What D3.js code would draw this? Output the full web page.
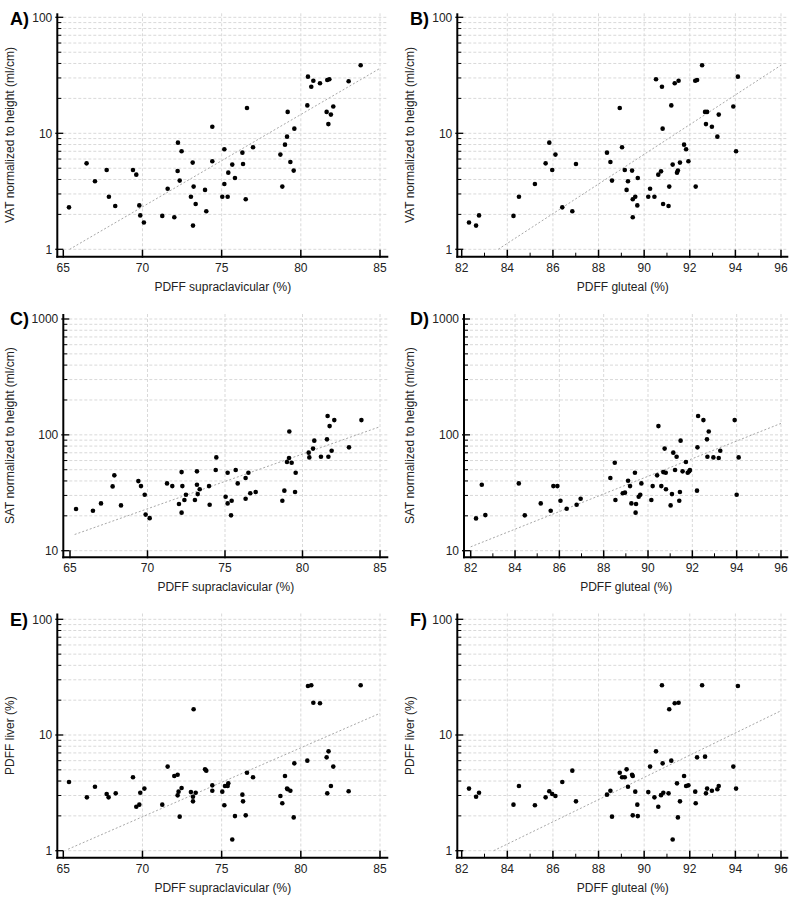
<!DOCTYPE html>
<html><head><meta charset="utf-8">
<script src="https://cdn.jsdelivr.net/npm/d3@7"></script>
<style>body{margin:0;background:#fff}svg{display:block}</style>
</head><body>
<svg id="chart" width="800" height="902"></svg>
<script>
// ---------------- DATA ----------------
const xSupra = [65.36,66.47,67.0,67.74,67.88,68.28,69.4,69.61,69.8,69.86,70.09,71.25,71.59,72.01,72.24,72.22,72.35,72.47,73.06,73.17,73.23,73.19,73.36,73.95,74.03,74.41,74.41,75.04,75.17,75.17,75.38,75.42,75.67,75.84,76.31,76.35,76.52,76.6,76.98,78.71,78.83,79.0,79.13,79.17,79.34,79.55,79.59,80.41,80.45,80.66,80.79,81.21,81.63,81.67,81.8,81.74,81.9,82.05,83.02,83.78];
const vatSupra = [2.30,5.51,3.86,4.83,2.84,2.36,4.83,4.40,2.39,1.96,1.70,1.94,3.33,1.89,8.31,4.73,3.91,7.0,2.84,5.59,3.47,1.60,2.46,3.25,2.13,5.74,11.4,2.84,7.28,3.66,2.84,4.58,5.37,4.12,6.81,5.44,2.70,16.5,7.57,6.55,3.47,7.98,9.36,15.3,5.66,4.77,10.97,17.4,30.8,25.2,28.4,27.0,15.3,28.8,29.2,12.0,14.5,17.0,28.1,38.6];

const xGlut = [82.32,82.63,82.76,84.27,84.51,85.21,85.68,85.84,85.97,86.11,86.41,86.85,87.01,88.37,88.52,88.59,88.93,89.03,89.15,89.23,89.29,89.47,89.5,89.5,89.61,89.7,89.72,90.18,90.26,90.45,90.52,90.62,90.74,90.78,90.81,90.83,91.07,91.1,91.19,91.25,91.34,91.44,91.48,91.51,91.57,91.75,91.84,91.94,92.24,92.26,92.32,92.54,92.67,92.76,92.71,92.97,93.21,93.27,93.91,94.03,94.11];
const vatGlut = [1.70,1.60,1.96,1.94,2.84,3.66,5.51,8.31,4.83,6.55,2.30,2.13,5.44,6.81,5.66,3.91,16.5,7.57,4.83,3.25,3.86,4.77,2.70,1.89,2.84,2.39,4.12,2.84,3.33,2.84,29.2,4.40,4.70,25.2,10.97,2.46,2.36,3.47,17.4,5.37,27.0,4.58,4.77,28.4,5.59,7.98,7.28,5.74,28.4,3.47,28.8,38.6,15.3,15.3,12.0,11.4,9.36,14.5,17.0,7.0,30.8];

const xSupraC = [65.39,66.48,67.0,67.75,67.86,68.29,69.41,69.58,69.82,69.88,70.14,71.26,71.6,72.03,72.2,72.2,72.25,72.38,72.48,73.06,73.19,73.19,73.24,73.37,73.97,74.01,74.4,74.44,75.04,75.17,75.17,75.39,75.43,75.69,75.82,76.33,76.33,76.51,76.63,76.98,78.7,78.83,79.0,79.15,79.13,79.3,79.52,79.56,80.4,80.44,80.68,80.76,81.19,81.58,81.62,81.67,81.75,81.88,82.05,83.0,83.8];
const satSupra = [22.9,22.1,25.6,35.9,44.7,24.6,39.9,36.1,30.4,20.5,19.1,38.1,36.1,25.3,47.7,21.3,36.1,27.4,30.4,27.4,48.4,37.1,30.8,33.9,36.1,24.9,49.7,63.9,29.2,47.1,25.6,20.2,27.0,49.7,38.1,28.1,42.4,47.1,31.3,32.1,27.0,33.0,58.3,107,63.1,57.5,32.1,47.1,70.2,63.9,76.1,89.1,64.8,91.4,145.5,64.8,119,73.0,134,78.0,134];

const xGlutD = [82.24,82.5,82.66,84.17,84.44,85.16,85.61,85.73,85.91,86.05,86.33,86.78,86.96,88.3,88.5,88.53,88.86,88.96,89.1,89.19,89.25,89.41,89.44,89.46,89.58,89.65,89.7,90.15,90.21,90.41,90.47,90.6,90.69,90.75,90.8,90.81,91.02,91.08,91.14,91.22,91.29,91.41,91.44,91.47,91.56,91.71,91.79,91.86,91.89,92.21,92.23,92.26,92.5,92.66,92.68,92.74,92.95,93.19,93.26,93.91,94.0,94.09];
const satGlut = [19.0,37.1,20.3,38.1,20.2,25.6,22.1,36.1,36.1,27.0,23.0,24.9,28.1,42.4,57.5,27.4,31.3,31.7,40.2,36.1,25.6,47.1,21.3,25.3,29.2,30.4,38.1,27.4,36.1,44.7,119,36.1,47.7,76.1,47.1,33.9,24.6,30.8,70.2,49.7,64.8,27.0,32.1,89.1,48.4,58.3,47.1,48.4,49.7,33.0,78.0,145.5,134,91.4,64.8,107,63.9,63.1,73.0,134,30.4,63.9];

const xSupraE = [65.36,66.49,67.0,67.74,67.86,68.31,69.4,69.61,69.8,69.86,70.12,71.25,71.59,72.01,72.22,72.22,72.28,72.35,72.47,73.06,73.19,73.19,73.23,73.36,73.95,74.03,74.41,74.41,75.04,75.17,75.21,75.38,75.42,75.67,75.84,76.31,76.35,76.52,76.6,76.98,78.71,78.83,79.0,79.13,79.17,79.34,79.55,79.59,80.41,80.45,80.66,80.79,81.21,81.63,81.67,81.75,81.9,82.05,83.02,83.78];
const liverSupra = [3.92,2.89,3.57,3.09,2.89,3.13,4.31,2.40,2.50,3.17,3.44,2.50,5.33,4.42,4.54,3.01,3.24,1.97,3.48,3.21,2.93,2.67,16.7,3.17,5.05,4.92,3.67,3.30,3.24,2.47,3.62,3.62,3.82,1.25,1.99,3.05,2.67,2.02,4.72,4.31,2.97,2.57,4.42,3.44,3.40,3.30,1.94,5.69,6.0,26.5,26.9,19.0,18.8,6.41,3.13,7.22,3.62,5.33,3.26,26.9];

const xGlutF = [82.32,82.63,82.76,84.27,84.51,85.21,85.68,85.84,85.97,86.11,86.41,86.85,87.01,88.37,88.52,88.59,88.93,89.03,89.15,89.23,89.29,89.47,89.5,89.5,89.61,89.7,89.72,90.18,90.26,90.45,90.52,90.62,90.74,90.78,90.81,90.84,91.07,91.1,91.19,91.25,91.34,91.44,91.48,91.51,91.57,91.75,91.84,91.94,92.24,92.26,92.32,92.54,92.67,92.71,92.76,92.97,93.21,93.27,93.91,94.03,94.11];
const liverGlut = [3.44,2.93,3.17,2.50,3.62,2.47,2.89,3.26,3.09,2.97,3.92,4.92,2.67,3.05,3.30,1.97,4.72,4.31,4.31,5.05,3.57,4.54,4.42,2.02,3.24,2.50,1.99,3.21,5.33,2.89,7.22,2.40,3.02,26.9,5.69,3.17,3.13,16.7,6.0,1.25,18.8,3.82,1.94,19.0,2.67,4.42,3.62,3.67,3.24,2.57,6.41,26.9,6.5,3.13,3.44,3.30,3.40,3.62,5.33,3.44,26.5];

// regression lines (data units: [x0, y0, x1, y1])
const fitA = [65.4, 1.0, 85, 36.3];
const fitB = [83.6, 1.0, 96, 38.6];
const fitC = [65.3, 13.8, 85, 117.6];
const fitD = [82, 10.8, 96, 125.6];
const fitE = [65.3, 1.03, 85, 15.4];
const fitF = [83.4, 1.0, 96, 16.2];

const xTicksSupra = [65, 70, 75, 80, 85];
const xTicksGlut = [82, 84, 86, 88, 90, 92, 94, 96];
const yTicksVat = [1, 10, 100];
const yTicksSat = [10, 100, 1000];

const panelLabels = ["A)", "B)", "C)", "D)", "E)", "F)"];
const xTitleSupra = "PDFF supraclavicular (%)";
const xTitleGlut = "PDFF gluteal (%)";
const yTitleVat = "VAT normalized to height (ml/cm)";
const yTitleSat = "SAT normalized to height (ml/cm)";
const yTitleLiver = "PDFF liver (%)";

// ---------------- LAYOUT ----------------
const panels = [
  {label:panelLabels[0], xs:xSupra, ys:vatSupra, fit:fitA, xt:xTicksSupra, yt:yTicksVat, xMinor:[], xTitle:xTitleSupra, yTitle:yTitleVat,
   axX:57.3, axTop:13.3, axRight:388.3, axBottom:256.7, xr:[63.3,380], yr:[249.3,17.3], lx:10, ly:25},
  {label:panelLabels[1], xs:xGlut, ys:vatGlut, fit:fitB, xt:xTicksGlut, yt:yTicksVat, xMinor:d3.range(83,96,2), xTitle:xTitleGlut, yTitle:yTitleVat,
   axX:457.3, axTop:13.3, axRight:788.3, axBottom:256.7, xr:[461.7,781], yr:[249.3,17.3], lx:410, ly:25},
  {label:panelLabels[2], xs:xSupraC, ys:satSupra, fit:fitC, xt:xTicksSupra, yt:yTicksSat, xMinor:[], xTitle:xTitleSupra, yTitle:yTitleSat,
   axX:63.3, axTop:314, axRight:388.3, axBottom:557.3, xr:[70,380], yr:[550.7,319], lx:10, ly:325},
  {label:panelLabels[3], xs:xGlutD, ys:satGlut, fit:fitD, xt:xTicksGlut, yt:yTicksSat, xMinor:d3.range(83,96,2), xTitle:xTitleGlut, yTitle:yTitleSat,
   axX:464, axTop:314, axRight:788.3, axBottom:557.3, xr:[470.7,781], yr:[550.7,319], lx:410, ly:325},
  {label:panelLabels[4], xs:xSupraE, ys:liverSupra, fit:fitE, xt:xTicksSupra, yt:yTicksVat, xMinor:[], xTitle:xTitleSupra, yTitle:yTitleLiver,
   axX:57.3, axTop:613.5, axRight:388.3, axBottom:857.7, xr:[63.3,380], yr:[850.7,619.3], lx:10, ly:626},
  {label:panelLabels[5], xs:xGlutF, ys:liverGlut, fit:fitF, xt:xTicksGlut, yt:yTicksVat, xMinor:d3.range(83,96,2), xTitle:xTitleGlut, yTitle:yTitleLiver,
   axX:457.3, axTop:613.5, axRight:788.3, axBottom:857.7, xr:[461.7,781], yr:[850.7,619.3], lx:410, ly:626}
];

const svg = d3.select("#chart");
const FONT = "'Liberation Sans', Arial, sans-serif";

panels.forEach(p => {
  const g = svg.append("g");
  const xt = p.xt, yt = p.yt;
  const x = d3.scaleLinear().domain([xt[0], xt[xt.length-1]]).range(p.xr);
  const y = d3.scaleLog().domain([yt[0], yt[yt.length-1]]).range(p.yr);

  // all y grid values (1..9 x decades)
  const yGrid = [];
  for (let i = 0; i < yt.length; i++) {
    if (i < yt.length - 1) { for (let k = 1; k <= 9; k++) yGrid.push(yt[i]*k); }
    else yGrid.push(yt[i]);
  }
  const yMinor = yGrid.filter(v => !yt.includes(v));

  // grid
  g.append("g").selectAll("line").data(yGrid).join("line")
    .attr("x1", p.axX + 1).attr("x2", p.axRight)
    .attr("y1", d => y(d)).attr("y2", d => y(d))
    .attr("stroke", "#d9d9d9").attr("stroke-width", 1).attr("stroke-dasharray", "3,2");
  g.append("g").selectAll("line").data(xt.slice(1)).join("line")
    .attr("x1", d => x(d)).attr("x2", d => x(d))
    .attr("y1", p.axTop).attr("y2", p.axBottom - 1)
    .attr("stroke", "#d9d9d9").attr("stroke-width", 1).attr("stroke-dasharray", "3,2");

  // regression line (straight in log space)
  const f = p.fit;
  g.append("line")
    .attr("x1", x(f[0])).attr("y1", y(f[1])).attr("x2", x(f[2])).attr("y2", y(f[3]))
    .attr("stroke", "#a8a8a8").attr("stroke-width", 1).attr("stroke-dasharray", "2,2");

  // points
  g.append("g").selectAll("circle").data(p.xs.map((v, i) => [v, p.ys[i]])).join("circle")
    .attr("cx", d => x(d[0])).attr("cy", d => y(d[1])).attr("r", 2.3).attr("fill", "#000");

  // axes lines
  g.append("line").attr("x1", p.axX).attr("x2", p.axX).attr("y1", p.axTop).attr("y2", p.axBottom + 1)
    .attr("stroke", "#000").attr("stroke-width", 2);
  g.append("line").attr("x1", p.axX - 1).attr("x2", p.axRight).attr("y1", p.axBottom).attr("y2", p.axBottom)
    .attr("stroke", "#000").attr("stroke-width", 2);

  // y ticks
  g.append("g").selectAll("line").data(yt).join("line")
    .attr("x1", p.axX - 2).attr("x2", p.axX + 6).attr("y1", d => y(d)).attr("y2", d => y(d))
    .attr("stroke", "#000").attr("stroke-width", 1.3);
  g.append("g").selectAll("line").data(yMinor).join("line")
    .attr("x1", p.axX).attr("x2", p.axX + 4).attr("y1", d => y(d)).attr("y2", d => y(d))
    .attr("stroke", "#000").attr("stroke-width", 1);
  g.append("g").selectAll("text").data(yt).join("text")
    .attr("x", p.axX - 5).attr("y", d => y(d) + 4.3).attr("text-anchor", "end")
    .attr("font-family", FONT).attr("font-size", 12).attr("fill", "#222").text(d => d);

  // x ticks
  g.append("g").selectAll("line").data(xt).join("line")
    .attr("x1", d => x(d)).attr("x2", d => x(d)).attr("y1", p.axBottom + 1).attr("y2", p.axBottom - 7)
    .attr("stroke", "#000").attr("stroke-width", 1.5);
  g.append("g").selectAll("line").data(p.xMinor).join("line")
    .attr("x1", d => x(d)).attr("x2", d => x(d)).attr("y1", p.axBottom).attr("y2", p.axBottom - 4)
    .attr("stroke", "#000").attr("stroke-width", 1);
  g.append("g").selectAll("text").data(xt).join("text")
    .attr("x", d => x(d)).attr("y", p.axBottom + 15).attr("text-anchor", "middle")
    .attr("font-family", FONT).attr("font-size", 12).attr("fill", "#222").text(d => d);

  // titles
  g.append("text").attr("x", (p.axX + p.axRight) / 2).attr("y", p.axBottom + 34)
    .attr("text-anchor", "middle").attr("font-family", FONT).attr("font-size", 12).attr("fill", "#222")
    .text(p.xTitle);
  const cy = (p.axTop + p.axBottom) / 2;
  const tx = p.lx + 3.5;
  g.append("text").attr("transform", `translate(${tx},${cy}) rotate(-90)`)
    .attr("text-anchor", "middle").attr("font-family", FONT).attr("font-size", 12).attr("fill", "#222")
    .text(p.yTitle);

  // panel label
  g.append("text").attr("x", p.lx).attr("y", p.ly)
    .attr("font-family", FONT).attr("font-weight", "bold").attr("font-size", 18).attr("fill", "#000")
    .text(p.label);
});
</script>
</body></html>
